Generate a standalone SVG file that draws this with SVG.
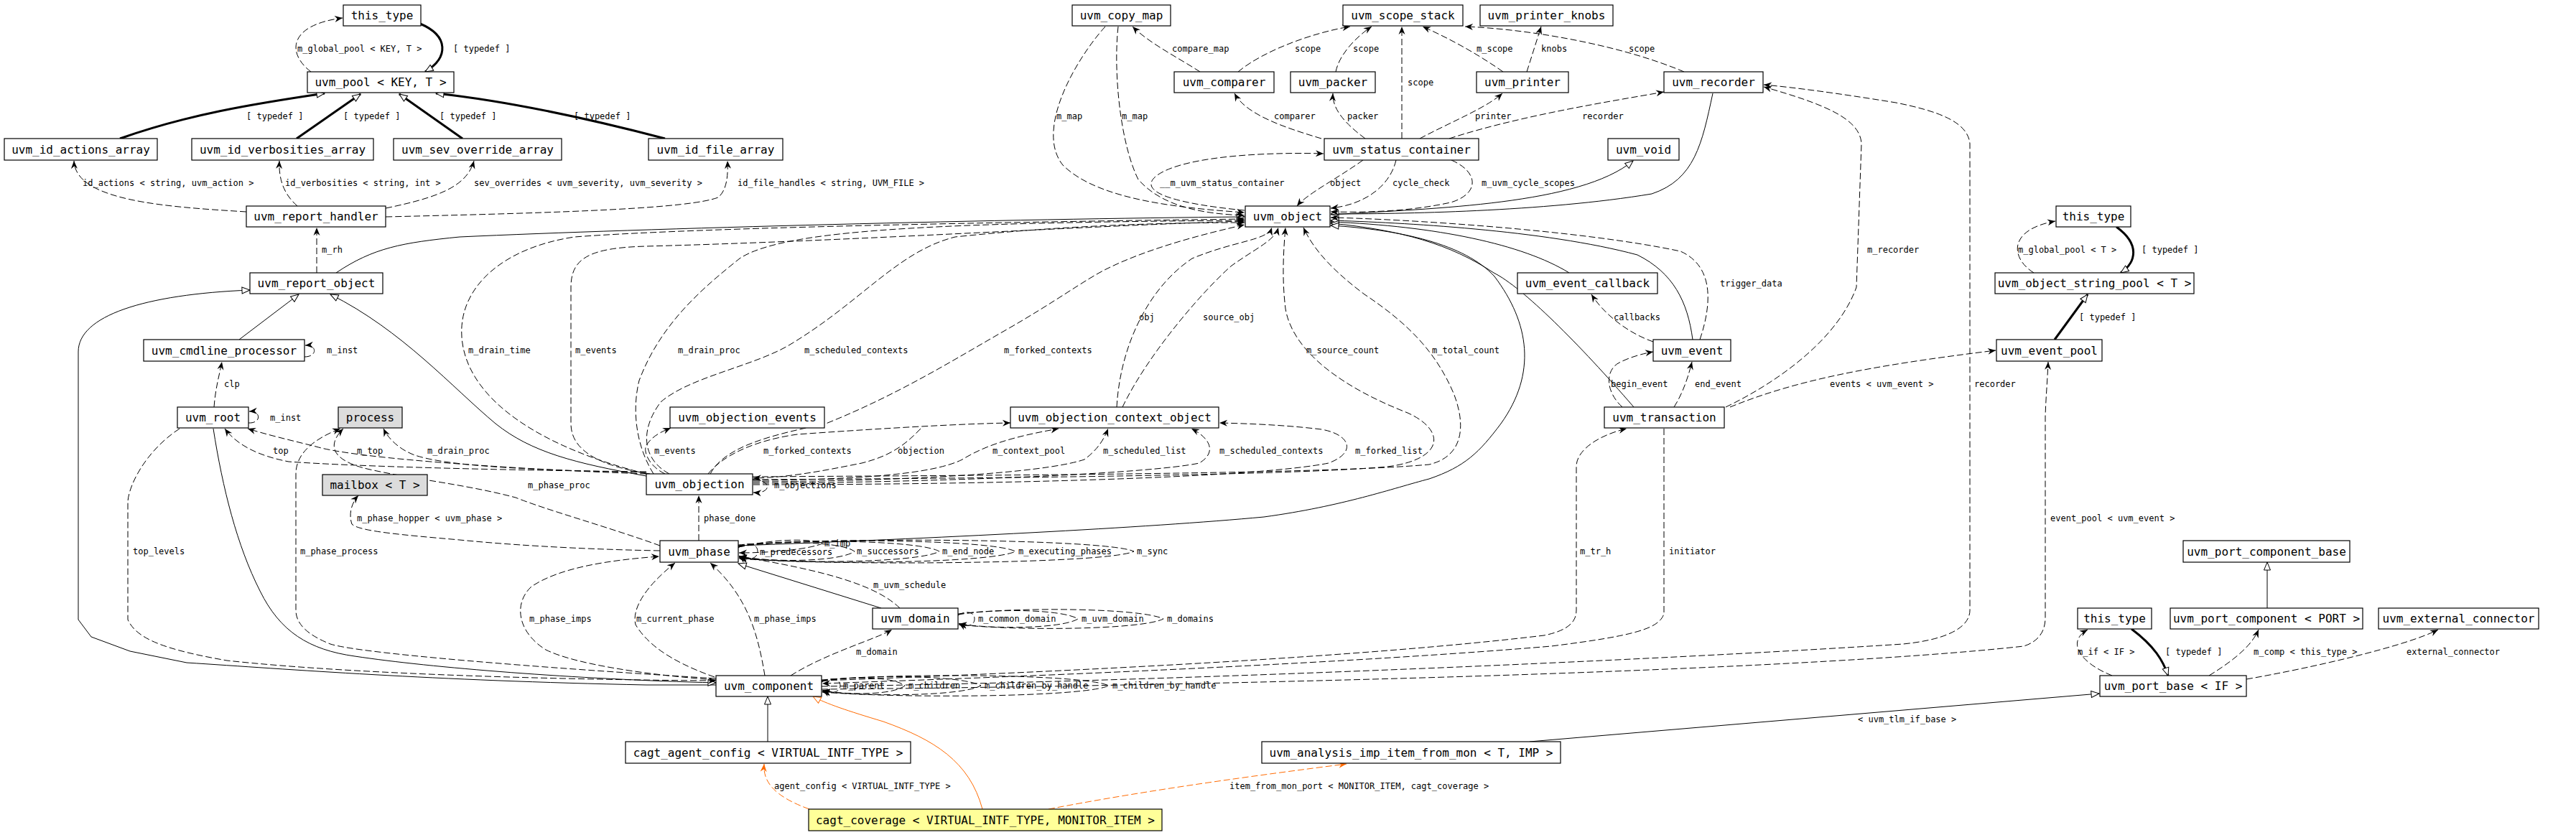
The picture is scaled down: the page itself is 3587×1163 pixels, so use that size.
<svg xmlns="http://www.w3.org/2000/svg" width="3587" height="1163" viewBox="0 0 3587 1163">
<style>
.e{fill:none;stroke:#000;stroke-width:1}
.d{stroke-dasharray:9,4}
.t{stroke-width:3}
.o{stroke:#ff6a00}
.u{marker-end:url(#v)}
.i{marker-end:url(#h)}
.uo{marker-end:url(#vo)}
.io{marker-end:url(#ho)}
rect.b{fill:#fff;stroke:#000;stroke-width:1.2}
rect.g{fill:#dcdcdc}
rect.y{fill:#ffff99}
text.n{font-family:"DejaVu Sans Mono",monospace;font-size:16px;text-anchor:middle;fill:#000}
text.l{font-family:"DejaVu Sans Mono",monospace;font-size:12px;fill:#000}
</style>
<defs>
<marker id="v" markerUnits="userSpaceOnUse" markerWidth="14" markerHeight="12" refX="11" refY="5" orient="auto" overflow="visible"><path d="M0,0.5 L11,5 L0,9.5 L3.5,5 Z" fill="#000"/></marker>
<marker id="vo" markerUnits="userSpaceOnUse" markerWidth="14" markerHeight="12" refX="11" refY="5" orient="auto" overflow="visible"><path d="M0,0.5 L11,5 L0,9.5 L3.5,5 Z" fill="#ff6a00"/></marker>
<marker id="h" markerUnits="userSpaceOnUse" markerWidth="14" markerHeight="12" refX="12" refY="5.5" orient="auto" overflow="visible"><path d="M1,1 L12,5.5 L1,10 Z" fill="#fff" stroke="#000" stroke-width="1"/></marker>
<marker id="ho" markerUnits="userSpaceOnUse" markerWidth="14" markerHeight="12" refX="12" refY="5.5" orient="auto" overflow="visible"><path d="M1,1 L12,5.5 L1,10 Z" fill="#fff" stroke="#ff6a00" stroke-width="1"/></marker>
</defs>
<rect width="3587" height="1163" fill="#fff"/>
<g id="edges">
<path class="e d u" d="M433,100 C400,75 400,35 477,25"/>
<path class="e t i" d="M585,33 C625,50 625,80 592,100"/>
<path class="e t i" d="M167,193 C260,160 350,145 452,130"/>
<path class="e t i" d="M413,193 L502,131"/>
<path class="e t i" d="M644,193 L556,131"/>
<path class="e t i" d="M926,193 C800,160 700,140 607,130"/>
<path class="e d u" d="M343,295 C230,288 105,280 103,224"/>
<path class="e d u" d="M414,287 C395,270 388,250 389,224"/>
<path class="e d u" d="M537,290 C610,275 650,260 660,224"/>
<path class="e d u" d="M537,302 C800,296 960,290 1000,275 C1012,265 1014,245 1013,224"/>
<path class="e d u" d="M441,380 L441,317"/>
<path class="e i" d="M468,380 C520,345 560,338 640,330 C900,318 1400,305 1733,302"/>
<path class="e d u" d="M1539,37 C1500,80 1440,180 1480,230 C1530,280 1650,290 1733,296"/>
<path class="e d u" d="M1557,37 C1550,100 1560,200 1585,250 C1620,290 1680,298 1733,300"/>
<path class="e d u" d="M1671,100 C1640,80 1600,60 1577,37"/>
<path class="e d u" d="M1724,100 C1760,70 1830,45 1880,37"/>
<path class="e d u" d="M1860,100 C1865,75 1890,50 1910,37"/>
<path class="e d u" d="M1952,193 L1952,37"/>
<path class="e d u" d="M2093,100 C2050,70 2010,50 1981,37"/>
<path class="e d u" d="M2126,100 L2146,37"/>
<path class="e d u" d="M2345,100 C2250,60 2120,40 2040,37"/>
<path class="e d u" d="M1840,193 C1790,178 1735,160 1719,130"/>
<path class="e d u" d="M1901,193 C1870,170 1855,150 1856,130"/>
<path class="e d u" d="M1977,193 C2020,170 2070,150 2092,130"/>
<path class="e d u" d="M2018,193 C2120,160 2250,140 2317,128"/>
<path class="e i" d="M2385,130 C2370,200 2360,250 2300,270 C2150,295 1950,298 1853,298"/>
<path class="e i" d="M1853,299 C2000,290 2200,285 2274,224"/>
<path class="e d u" d="M1898,223 C1860,250 1820,270 1806,287"/>
<path class="e d u" d="M1944,223 C1935,260 1900,285 1853,290"/>
<path class="e d u" d="M2021,223 C2060,240 2060,270 2020,282 C1960,295 1900,296 1853,295"/>
<path class="e d u" d="M1733,293 C1650,285 1580,270 1610,245 C1650,215 1780,212 1843,214"/>
<path class="e d u" d="M900,660 C760,625 650,560 643,470 C638,400 700,345 800,330 C1000,315 1500,308 1733,305"/>
<path class="e d u" d="M905,660 C840,650 795,630 795,590 L795,400 C795,360 820,345 900,343 C1200,335 1500,315 1733,308"/>
<path class="e d u" d="M910,660 C885,620 880,570 890,530 C920,450 980,400 1030,360 C1090,320 1300,310 1733,307"/>
<path class="e d u" d="M932,660 C895,640 890,600 920,560 C960,525 1050,510 1100,480 C1200,420 1250,350 1330,330 C1500,312 1650,310 1733,310"/>
<path class="e d u" d="M989,660 C1010,620 1080,605 1150,590 C1250,550 1330,500 1400,460 C1470,420 1510,390 1540,375 C1600,345 1680,325 1733,313"/>
<path class="e d u" d="M1555,567 C1560,480 1600,400 1660,360 C1720,335 1765,335 1771,317"/>
<path class="e d u" d="M1563,567 C1600,490 1680,400 1715,370 C1750,345 1775,335 1780,317"/>
<path class="e d u" d="M1048,668 C1400,666 1800,662 1932,650 C2010,640 2015,600 1960,575 C1870,540 1800,490 1790,430 C1785,390 1787,350 1790,317"/>
<path class="e d u" d="M1048,664 C1400,662 1850,660 1990,647 C2040,635 2040,590 2025,550 C2000,490 1960,450 1900,410 C1860,380 1830,350 1815,317"/>
<path class="e i" d="M2185,380 C2120,340 2000,315 1853,309"/>
<path class="e i" d="M2357,473 C2350,420 2330,380 2280,355 C2150,320 1950,310 1853,307"/>
<path class="e d u" d="M2367,473 C2385,420 2385,370 2340,350 C2200,320 1950,305 1853,303"/>
<path class="e i" d="M2275,567 C2200,480 2120,400 2080,380 C2020,340 1950,320 1853,311"/>
<path class="e i" d="M1028,760 C1300,750 1600,735 1760,720 C1870,705 1940,680 1990,667 C2040,650 2060,630 2090,590 C2140,520 2130,450 2081,385 C2040,340 1950,320 1853,314"/>
<path class="e i" d="M333,473 L416,410"/>
<path class="e i" d="M900,663 C800,645 740,630 690,590 C630,540 560,460 460,410"/>
<path class="e i" d="M997,954 L900,954 C600,948 400,932 260,923 L181,907 L127,887 L109,863 L109,490 C109,440 200,410 348,404"/>
<path class="e i" d="M297,597 C310,680 330,760 362,823 C390,880 430,905 494,914 C600,930 800,946 997,951"/>
<path class="e d u" d="M250,597 C200,630 178,680 178,700 L178,863 C190,890 230,905 316,920 C500,940 800,947 997,948"/>
<path class="e d u" d="M900,657 C700,655 500,650 402,643 C360,635 330,620 313,597"/>
<path class="e d u" d="M900,660 C750,655 500,640 440,622 C400,612 370,605 345,597"/>
<path class="e d u" d="M900,658 C750,655 620,650 575,633 C555,625 540,610 534,597"/>
<path class="e d u" d="M919,760 C850,735 760,710 718,693 C650,675 580,668 520,655 C470,645 450,625 478,597"/>
<path class="e d u" d="M997,945 C750,930 500,910 460,897 C430,885 412,870 412,850 L412,660 C412,630 440,610 474,597"/>
<path class="e d u" d="M919,767 C800,765 700,758 640,752 C560,745 500,740 490,730 C485,715 490,700 499,690"/>
<path class="e d u" d="M926,660 C905,650 895,630 900,620 C910,605 925,600 934,596"/>
<path class="e d u" d="M986,660 C1010,630 1060,612 1110,605 C1250,595 1350,590 1407,589"/>
<path class="e d u" d="M1282,597 C1260,620 1240,635 1200,645 C1150,655 1100,665 1049,666"/>
<path class="e d u" d="M1049,669 C1200,668 1300,660 1340,640 C1380,615 1430,605 1474,597"/>
<path class="e d u" d="M1049,671 C1250,670 1450,660 1510,640 C1530,625 1538,610 1543,597"/>
<path class="e d u" d="M1049,673 C1300,672 1600,660 1670,645 C1695,630 1685,610 1659,597"/>
<path class="e d u" d="M1049,675 C1400,675 1750,665 1850,645 C1890,630 1880,605 1840,598 C1790,592 1740,590 1698,589"/>
<path class="e d u" d="M1048,668 C1075,668 1075,688 1049,686"/>
<path class="e d u" d="M973,753 L973,690"/>
<path class="e d u" d="M1028,763 C1040,754 1055,757 1055,768 C1055,779 1040,782 1029,774"/>
<path class="e d u" d="M1028,762 C1080,750 1130,750 1145,757 C1130,764 1080,770 1029,770"/>
<path class="e d u" d="M1028,762 C1080,752 1170,754 1190,768 C1170,782 1080,784 1029,775"/>
<path class="e d u" d="M1028,761 C1100,750 1280,752 1308,768 C1280,784 1100,786 1029,776"/>
<path class="e d u" d="M1028,760 C1120,749 1380,751 1414,768 C1380,785 1120,787 1029,777"/>
<path class="e d u" d="M1028,759 C1150,748 1540,750 1579,768 C1540,786 1150,788 1029,778"/>
<path class="e i" d="M1227,847 L1028,785"/>
<path class="e d u" d="M1253,847 C1220,815 1150,795 1029,775"/>
<path class="e d u" d="M1334,857 C1345,850 1357,852 1357,862 C1357,872 1345,874 1335,868"/>
<path class="e d u" d="M1334,856 C1390,847 1480,849 1501,862 C1480,875 1390,877 1335,869"/>
<path class="e d u" d="M1334,855 C1420,845 1590,847 1620,862 C1590,877 1420,879 1335,870"/>
<path class="e d u" d="M1101,941 C1150,910 1220,890 1242,877"/>
<path class="e d u" d="M1065,941 C1055,880 1040,830 989,784"/>
<path class="e d u" d="M995,943 C930,920 900,895 885,870 C880,850 895,820 940,784"/>
<path class="e d u" d="M997,947 C900,940 800,925 760,905 C720,880 715,840 740,817 C780,790 850,780 918,775"/>
<path class="e d u" d="M1144,950 C1156,943 1170,945 1170,955 C1170,965 1156,967 1145,961"/>
<path class="e d u" d="M1144,949 C1190,941 1245,943 1260,955 C1245,967 1190,969 1145,962"/>
<path class="e d u" d="M1144,948 C1220,939 1340,941 1366,955 C1340,969 1220,971 1145,963"/>
<path class="e d u" d="M1144,947 C1260,937 1510,939 1544,955 C1510,971 1260,973 1145,964"/>
<path class="e d u" d="M1144,948 C1500,935 1900,915 2150,885 C2185,878 2195,865 2195,850 L2195,650 C2195,625 2230,605 2265,597"/>
<path class="e d u" d="M2317,597 L2317,855 C2310,875 2280,885 2160,900 C1900,922 1500,940 1145,952"/>
<path class="e d u" d="M1144,956 C1600,950 2300,920 2650,897 C2720,890 2743,870 2743,850 L2743,200 C2740,170 2700,155 2640,143 C2560,130 2500,122 2456,118"/>
<path class="e d u" d="M2403,567 C2480,530 2560,470 2585,400 L2592,200 C2590,165 2540,145 2456,121"/>
<path class="e d u" d="M2409,567 C2500,530 2600,510 2779,488"/>
<path class="e d u" d="M1144,960 C1700,955 2500,935 2818,900 C2840,893 2848,878 2848,860 L2848,580 C2849,550 2851,530 2852,504"/>
<path class="e d u" d="M2259,567 C2235,545 2235,515 2255,505 C2270,497 2290,492 2302,490"/>
<path class="e d u" d="M2331,567 C2345,545 2352,520 2356,504"/>
<path class="e d u" d="M2302,476 C2270,465 2235,440 2216,410"/>
<path class="e d u" d="M2832,380 C2800,360 2795,320 2862,308"/>
<path class="e t i" d="M2947,316 C2980,340 2975,365 2953,380"/>
<path class="e t i" d="M2861,473 L2907,410"/>
<path class="e i" d="M3157,847 L3157,783"/>
<path class="e d u" d="M2941,941 C2900,925 2875,895 2907,877"/>
<path class="e t i" d="M2968,876 C3000,900 3012,920 3019,941"/>
<path class="e d u" d="M3076,941 C3110,920 3135,900 3145,877"/>
<path class="e d u" d="M3128,946 C3220,930 3350,900 3395,877"/>
<path class="e i" d="M2130,1033 L2923,966"/>
<path class="e i" d="M1069,1033 L1069,970"/>
<path class="e o io" d="M1368,1127 C1350,1060 1300,1030 1230,1005 C1180,990 1150,980 1132,970"/>
<path class="e d o uo" d="M1127,1127 C1080,1110 1062,1090 1064,1064"/>
<path class="e d o uo" d="M1460,1127 C1600,1100 1750,1080 1875,1064"/>
<path class="e d u" d="M424,497 C442,497 442,480 425,481"/>
<path class="e d u" d="M346,589 C364,590 364,572 347,573"/>
<path class="e d u" d="M298,567 C300,540 306,520 309,504"/>
<text class="l" x="414" y="72">m_global_pool &lt; KEY, T &gt;</text>
<text class="l" x="631" y="72">[ typedef ]</text>
<text class="l" x="343" y="166">[ typedef ]</text>
<text class="l" x="478" y="166">[ typedef ]</text>
<text class="l" x="612" y="166">[ typedef ]</text>
<text class="l" x="799" y="166">[ typedef ]</text>
<text class="l" x="115" y="259">id_actions &lt; string, uvm_action &gt;</text>
<text class="l" x="397" y="259">id_verbosities &lt; string, int &gt;</text>
<text class="l" x="660" y="259">sev_overrides &lt; uvm_severity, uvm_severity &gt;</text>
<text class="l" x="1027" y="259">id_file_handles &lt; string, UVM_FILE &gt;</text>
<text class="l" x="448" y="352">m_rh</text>
<text class="l" x="1471" y="166">m_map</text>
<text class="l" x="1562" y="166">m_map</text>
<text class="l" x="1632" y="72">compare_map</text>
<text class="l" x="1803" y="72">scope</text>
<text class="l" x="1884" y="72">scope</text>
<text class="l" x="1960" y="119">scope</text>
<text class="l" x="2056" y="72">m_scope</text>
<text class="l" x="2146" y="72">knobs</text>
<text class="l" x="2268" y="72">scope</text>
<text class="l" x="1774" y="166">comparer</text>
<text class="l" x="1876" y="166">packer</text>
<text class="l" x="2054" y="166">printer</text>
<text class="l" x="2203" y="166">recorder</text>
<text class="l" x="1852" y="259">object</text>
<text class="l" x="1939" y="259">cycle_check</text>
<text class="l" x="2063" y="259">m_uvm_cycle_scopes</text>
<text class="l" x="1615" y="259">__m_uvm_status_container</text>
<text class="l" x="652" y="492">m_drain_time</text>
<text class="l" x="801" y="492">m_events</text>
<text class="l" x="944" y="492">m_drain_proc</text>
<text class="l" x="1120" y="492">m_scheduled_contexts</text>
<text class="l" x="1398" y="492">m_forked_contexts</text>
<text class="l" x="1586" y="446">obj</text>
<text class="l" x="1675" y="446">source_obj</text>
<text class="l" x="1819" y="492">m_source_count</text>
<text class="l" x="1994" y="492">m_total_count</text>
<text class="l" x="2395" y="399">trigger_data</text>
<text class="l" x="185" y="772">top_levels</text>
<text class="l" x="380" y="632">top</text>
<text class="l" x="497" y="632">m_top</text>
<text class="l" x="595" y="632">m_drain_proc</text>
<text class="l" x="735" y="680">m_phase_proc</text>
<text class="l" x="418" y="772">m_phase_process</text>
<text class="l" x="497" y="726">m_phase_hopper &lt; uvm_phase &gt;</text>
<text class="l" x="911" y="632">m_events</text>
<text class="l" x="1063" y="632">m_forked_contexts</text>
<text class="l" x="1250" y="632">objection</text>
<text class="l" x="1382" y="632">m_context_pool</text>
<text class="l" x="1536" y="632">m_scheduled_list</text>
<text class="l" x="1698" y="632">m_scheduled_contexts</text>
<text class="l" x="1887" y="632">m_forked_list</text>
<text class="l" x="1078" y="680">m_objections</text>
<text class="l" x="980" y="726">phase_done</text>
<text class="l" x="1058" y="773">m_predecessors</text>
<text class="l" x="1148" y="761">m_imp</text>
<text class="l" x="1193" y="772">m_successors</text>
<text class="l" x="1312" y="772">m_end_node</text>
<text class="l" x="1418" y="772">m_executing_phases</text>
<text class="l" x="1583" y="772">m_sync</text>
<text class="l" x="1216" y="819">m_uvm_schedule</text>
<text class="l" x="1362" y="866">m_common_domain</text>
<text class="l" x="1506" y="866">m_uvm_domain</text>
<text class="l" x="1625" y="866">m_domains</text>
<text class="l" x="1192" y="912">m_domain</text>
<text class="l" x="1050" y="866">m_phase_imps</text>
<text class="l" x="886" y="866">m_current_phase</text>
<text class="l" x="737" y="866">m_phase_imps</text>
<text class="l" x="1174" y="959">m_parent</text>
<text class="l" x="1265" y="959">m_children</text>
<text class="l" x="1371" y="959">m_children_by_handle</text>
<text class="l" x="1549" y="959">m_children_by_handle</text>
<text class="l" x="2200" y="772">m_tr_h</text>
<text class="l" x="2324" y="772">initiator</text>
<text class="l" x="2749" y="539">recorder</text>
<text class="l" x="2600" y="352">m_recorder</text>
<text class="l" x="2548" y="539">events &lt; uvm_event &gt;</text>
<text class="l" x="2855" y="726">event_pool &lt; uvm_event &gt;</text>
<text class="l" x="2243" y="539">begin_event</text>
<text class="l" x="2360" y="539">end_event</text>
<text class="l" x="2247" y="446">callbacks</text>
<text class="l" x="2810" y="352">m_global_pool &lt; T &gt;</text>
<text class="l" x="2982" y="352">[ typedef ]</text>
<text class="l" x="2895" y="446">[ typedef ]</text>
<text class="l" x="2893" y="912">m_if &lt; IF &gt;</text>
<text class="l" x="3015" y="912">[ typedef ]</text>
<text class="l" x="3138" y="912">m_comp &lt; this_type &gt;</text>
<text class="l" x="3351" y="912">external_connector</text>
<text class="l" x="2587" y="1006">&lt; uvm_tlm_if_base &gt;</text>
<text class="l" x="1078" y="1099">agent_config &lt; VIRTUAL_INTF_TYPE &gt;</text>
<text class="l" x="1712" y="1099">item_from_mon_port &lt; MONITOR_ITEM, cagt_coverage &gt;</text>
<text class="l" x="455" y="492">m_inst</text>
<text class="l" x="376" y="586">m_inst</text>
<text class="l" x="312" y="539">clp</text>
</g>
<g id="n1"><rect class="b" x="478" y="7" width="108" height="29"/><text class="n" x="532" y="27">this_type</text></g>
<g id="n2"><rect class="b" x="428" y="100" width="204" height="29"/><text class="n" x="530" y="120">uvm_pool &lt; KEY, T &gt;</text></g>
<g id="n3"><rect class="b" x="6" y="193" width="213" height="30"/><text class="n" x="112.5" y="213.5">uvm_id_actions_array</text></g>
<g id="n4"><rect class="b" x="267" y="193" width="253" height="30"/><text class="n" x="393.5" y="213.5">uvm_id_verbosities_array</text></g>
<g id="n5"><rect class="b" x="548" y="193" width="234" height="30"/><text class="n" x="665" y="213.5">uvm_sev_override_array</text></g>
<g id="n6"><rect class="b" x="903" y="193" width="187" height="30"/><text class="n" x="996.5" y="213.5">uvm_id_file_array</text></g>
<g id="n7"><rect class="b" x="343" y="287" width="194" height="29"/><text class="n" x="440" y="307">uvm_report_handler</text></g>
<g id="n8"><rect class="b" x="348" y="380" width="185" height="29"/><text class="n" x="440.5" y="400">uvm_report_object</text></g>
<g id="n9"><rect class="b" x="200" y="473" width="224" height="30"/><text class="n" x="312" y="493.5">uvm_cmdline_processor</text></g>
<g id="n10"><rect class="b" x="247" y="567" width="99" height="29"/><text class="n" x="296.5" y="587">uvm_root</text></g>
<g id="n11"><rect class="b g" x="471" y="567" width="89" height="29"/><text class="n" x="515.5" y="587">process</text></g>
<g id="n12"><rect class="b g" x="449" y="661" width="146" height="29"/><text class="n" x="522" y="681">mailbox &lt; T &gt;</text></g>
<g id="n13"><rect class="b" x="1493" y="7" width="137" height="29"/><text class="n" x="1561.5" y="27">uvm_copy_map</text></g>
<g id="n14"><rect class="b" x="1635" y="100" width="139" height="29"/><text class="n" x="1704.5" y="120">uvm_comparer</text></g>
<g id="n15"><rect class="b" x="1870" y="7" width="167" height="29"/><text class="n" x="1953.5" y="27">uvm_scope_stack</text></g>
<g id="n16"><rect class="b" x="2061" y="7" width="185" height="29"/><text class="n" x="2153.5" y="27">uvm_printer_knobs</text></g>
<g id="n17"><rect class="b" x="1797" y="100" width="118" height="29"/><text class="n" x="1856" y="120">uvm_packer</text></g>
<g id="n18"><rect class="b" x="2056" y="100" width="128" height="29"/><text class="n" x="2120" y="120">uvm_printer</text></g>
<g id="n19"><rect class="b" x="2317" y="100" width="138" height="29"/><text class="n" x="2386" y="120">uvm_recorder</text></g>
<g id="n20"><rect class="b" x="1844" y="193" width="215" height="30"/><text class="n" x="1951.5" y="213.5">uvm_status_container</text></g>
<g id="n21"><rect class="b" x="2239" y="193" width="99" height="30"/><text class="n" x="2288.5" y="213.5">uvm_void</text></g>
<g id="n22"><rect class="b" x="1734" y="287" width="118" height="29"/><text class="n" x="1793" y="307">uvm_object</text></g>
<g id="n23"><rect class="b" x="2113" y="380" width="195" height="29"/><text class="n" x="2210.5" y="400">uvm_event_callback</text></g>
<g id="n24"><rect class="b" x="2863" y="287" width="104" height="29"/><text class="n" x="2915" y="307">this_type</text></g>
<g id="n25"><rect class="b" x="2778" y="380" width="277" height="29"/><text class="n" x="2916.5" y="400">uvm_object_string_pool &lt; T &gt;</text></g>
<g id="n26"><rect class="b" x="2302" y="473" width="108" height="30"/><text class="n" x="2356" y="493.5">uvm_event</text></g>
<g id="n27"><rect class="b" x="2780" y="473" width="147" height="30"/><text class="n" x="2853.5" y="493.5">uvm_event_pool</text></g>
<g id="n28"><rect class="b" x="2234" y="567" width="167" height="29"/><text class="n" x="2317.5" y="587">uvm_transaction</text></g>
<g id="n29"><rect class="b" x="933" y="567" width="215" height="29"/><text class="n" x="1040.5" y="587">uvm_objection_events</text></g>
<g id="n30"><rect class="b" x="1407" y="567" width="290" height="29"/><text class="n" x="1552" y="587">uvm_objection_context_object</text></g>
<g id="n31"><rect class="b" x="900" y="660" width="148" height="29"/><text class="n" x="974" y="680">uvm_objection</text></g>
<g id="n32"><rect class="b" x="919" y="753" width="109" height="30"/><text class="n" x="973.5" y="773.5">uvm_phase</text></g>
<g id="n33"><rect class="b" x="1215" y="847" width="119" height="29"/><text class="n" x="1274.5" y="867">uvm_domain</text></g>
<g id="n34"><rect class="b" x="997" y="941" width="147" height="29"/><text class="n" x="1070.5" y="961">uvm_component</text></g>
<g id="n35"><rect class="b" x="871" y="1033" width="397" height="30"/><text class="n" x="1069.5" y="1053.5">cagt_agent_config &lt; VIRTUAL_INTF_TYPE &gt;</text></g>
<g id="n36"><rect class="b y" x="1126" y="1127" width="492" height="30"/><text class="n" x="1372" y="1147.5">cagt_coverage &lt; VIRTUAL_INTF_TYPE, MONITOR_ITEM &gt;</text></g>
<g id="n37"><rect class="b" x="1757" y="1033" width="416" height="30"/><text class="n" x="1965" y="1053.5">uvm_analysis_imp_item_from_mon &lt; T, IMP &gt;</text></g>
<g id="n38"><rect class="b" x="3040" y="753" width="232" height="30"/><text class="n" x="3156" y="773.5">uvm_port_component_base</text></g>
<g id="n39"><rect class="b" x="2893" y="847" width="103" height="29"/><text class="n" x="2944.5" y="867">this_type</text></g>
<g id="n40"><rect class="b" x="3022" y="847" width="268" height="29"/><text class="n" x="3156" y="867">uvm_port_component &lt; PORT &gt;</text></g>
<g id="n41"><rect class="b" x="3312" y="847" width="223" height="29"/><text class="n" x="3423.5" y="867">uvm_external_connector</text></g>
<g id="n42"><rect class="b" x="2924" y="941" width="204" height="29"/><text class="n" x="3026" y="961">uvm_port_base &lt; IF &gt;</text></g>
</svg>
